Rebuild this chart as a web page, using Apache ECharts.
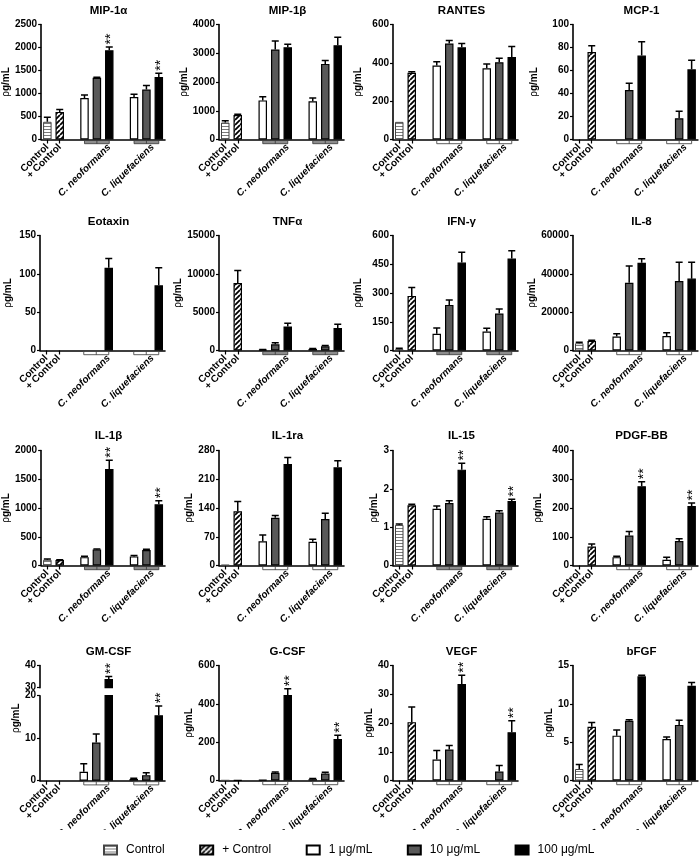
<!DOCTYPE html>
<html><head><meta charset="utf-8">
<script src="https://cdn.jsdelivr.net/npm/echarts@6/dist/echarts.min.js"></script>
<style>html,body{margin:0;padding:0;background:#fff}#c{width:700px;height:858px}</style>
</head><body><div id="c"></div>
<script>
// ---------------- data ----------------
const titles = ['MIP-1α','MIP-1β','RANTES','MCP-1','Eotaxin','TNFα','IFN-γ','IL-8','IL-1β','IL-1ra','IL-15','PDGF-BB','GM-CSF','G-CSF','VEGF','bFGF'];
const groupLabels = ['Control', '+ Control', 'C. neoformans', 'C. liquefaciens'];
const seriesNames = ['Control', '+ Control', '1 μg/mL', '10 μg/mL', '100 μg/mL'];
// order inside every panel array: Control, +Control, C.neoformans 1/10/100, C.liquefaciens 1/10/100
const MIP1a    = [385, 600, 900, 1340, 1940, 925, 1085, 1360];
const MIP1a_sd = [100, 50, 70, 15, 70, 60, 90, 80];
const MIP1b    = [590, 850, 1360, 3130, 3210, 1330, 2630, 3280];
const MIP1b_sd = [60, 30, 130, 300, 100, 110, 120, 280];
const RANTES    = [92, 348, 386, 501, 481, 372, 403, 430];
const RANTES_sd = [0, 5, 20, 16, 20, 22, 21, 55];
const MCP1    = [0, 76, 0, 43, 73, 0, 18.5, 61];
const MCP1_sd = [0, 5.5, 0, 6, 12, 0, 6, 8];
const Eotaxin    = [0, 0, 0, 0, 108, 0, 0, 85];
const Eotaxin_sd = [0, 0, 0, 0, 12, 0, 0, 23];
const TNFa    = [0, 8800, 100, 800, 3140, 200, 550, 2920];
const TNFa_sd = [0, 1650, 30, 200, 430, 60, 100, 500];
const IFNg    = [7, 285, 87, 238, 459, 99, 193, 480];
const IFNg_sd = [5, 44, 30, 26, 54, 17, 24, 40];
const IL8    = [3800, 5000, 7300, 35300, 45800, 7600, 36300, 37500];
const IL8_sd = [500, 350, 1400, 8800, 2100, 1700, 9700, 8500];
const IL1b    = [100, 94, 145, 280, 1680, 158, 270, 1064];
const IL1b_sd = [12, 8, 18, 8, 150, 17, 12, 60];
const IL1ra    = [1.5, 132, 59, 116, 247, 58, 113, 239];
const IL1ra_sd = [0, 24, 15, 6, 16, 6, 14, 16];
const IL15    = [1.06, 1.57, 1.48, 1.63, 2.5, 1.22, 1.38, 1.68];
const IL15_sd = [0.02, 0.03, 0.07, 0.06, 0.17, 0.05, 0.05, 0.05];
const PDGFBB    = [0, 66, 29, 104, 276, 20, 85, 207];
const PDGFBB_sd = [0, 9, 3, 14, 15, 9, 8, 10];
const GMCSF    = [0, 0, 2.1, 9.0, 33.9, 0.4, 1.3, 15.4];
const GMCSF_sd = [0, 0, 1.9, 2.0, 1.1, 0.15, 0.6, 2.2];
const GCSF    = [1, 2, 3, 40, 446, 7, 36, 217];
const GCSF_sd = [0, 0, 0, 5, 33, 3, 7, 19];
const VEGF    = [0, 20.3, 7.3, 10.8, 33.6, 0, 3.1, 16.8];
const VEGF_sd = [0, 5.3, 3.1, 1.4, 3, 0, 2.1, 4];
const bFGF    = [1.5, 7.0, 5.85, 7.78, 13.6, 5.4, 7.25, 12.35];
const bFGF_sd = [0.6, 0.56, 0.73, 0.13, 0.13, 0.26, 0.6, 0.43];
const yMax  = [2500, 4000, 600, 100, 150, 15000, 600, 60000, 2000, 280, 3, 400, 40, 600, 40, 15];
const yStep = [500, 1000, 200, 20, 50, 5000, 150, 20000, 500, 70, 1, 100, 10, 200, 10, 5];
const gmLowRange = [0, 20];     // GM-CSF broken axis: lower segment
const gmHighRange = [30, 40];   // GM-CSF broken axis: upper segment
const starPanels = ['MIP-1α','IL-1β','IL-15','PDGF-BB','GM-CSF','G-CSF','VEGF'];
const starMembers = [4, 7];     // 100 μg/mL of each species

const valueSets = [MIP1a, MIP1b, RANTES, MCP1, Eotaxin, TNFa, IFNg, IL8, IL1b, IL1ra, IL15, PDGFBB, GMCSF, GCSF, VEGF, bFGF];
const sdSets = [MIP1a_sd, MIP1b_sd, RANTES_sd, MCP1_sd, Eotaxin_sd, TNFa_sd, IFNg_sd, IL8_sd, IL1b_sd, IL1ra_sd, IL15_sd, PDGFBB_sd, GMCSF_sd, GCSF_sd, VEGF_sd, bFGF_sd];

// ---------------- layout / style ----------------
const barSlots = [0, 1, 3, 4, 5, 7, 8, 9];
const barSeries = [0, 1, 2, 3, 4, 2, 3, 4];
const groupSpans = [[3, 5], [7, 9]];
const xLabelPos = [0.5, 1.5, 5.5, 9.0];
const colX = [40, 219, 393, 573], rowY = [24.5, 235.5, 450.5, 665.5], GW = 125, GH = 115;
const titleTop = [0, 211, 425, 641];
const nameOff = [32, 30.5, 34.6, 38.5, 32, 31, 35, 35, 32.5, 28, 12.5, 35, 12, 28, 12, 20];
const bracketFill = ['#8c8c8c','#8c8c8c','#fff','#fff','#fff','#8c8c8c','#8c8c8c','#fff','#8c8c8c','#fff','#8c8c8c','#fff','#fff','#fff','#fff','#fff'];
const FONT = 'Liberation Sans, Arial, Helvetica, sans-serif';

function makePattern(kind) {
  const c = document.createElement('canvas');
  const g = c.getContext('2d');
  if (kind === 'h') {
    c.width = 4; c.height = 3;
    g.fillStyle = '#fff'; g.fillRect(0, 0, 4, 3);
    g.fillStyle = '#7a7a7a'; g.fillRect(0, 0, 4, 1);
  } else {
    const n = 5; c.width = n; c.height = n;
    g.fillStyle = '#fff'; g.fillRect(0, 0, n, n);
    g.strokeStyle = '#000'; g.lineWidth = 1.8;
    g.beginPath();
    for (const o of [-n, 0, n]) { g.moveTo(o, n); g.lineTo(o + n, 0); }
    g.stroke();
  }
  return { image: c, repeat: 'repeat' };
}
const seriesStyle = [
  { color: makePattern('h'), borderColor: '#444', borderWidth: 1 },
  { color: makePattern('d'), borderColor: '#000', borderWidth: 1.2 },
  { color: '#fff', borderColor: '#000', borderWidth: 1.2 },
  { color: '#595959', borderColor: '#000', borderWidth: 1.2 },
  { color: '#000', borderColor: '#000', borderWidth: 1.2 }
];

function errRender(params, api) {
  const x = api.value(0), v = api.value(1), e = api.value(2);
  const a = api.coord([x, v]), b = api.coord([x, v + e]);
  const w = 3.5;
  return { type: 'group', children: [
    { type: 'line', shape: { x1: a[0], y1: a[1], x2: b[0], y2: b[1] }, style: { stroke: '#000', lineWidth: 1.5 } },
    { type: 'line', shape: { x1: b[0] - w, y1: b[1], x2: b[0] + w, y2: b[1] }, style: { stroke: '#000', lineWidth: 1.5 } }
  ]};
}
function starRender(params, api) {
  const x = api.value(0), t = api.value(1);
  const c = api.coord([x, t]);
  const cs = params.coordSys;
  if (c[1] < cs.y - 1 || c[1] > cs.y + cs.height + 1) return null;
  return { type: 'text', x: c[0] + 2, y: c[1] - 8, rotation: Math.PI / 2,
    style: { text: '**', fontSize: 14, fontFamily: FONT, align: 'center', verticalAlign: 'middle', fill: '#000' } };
}
function makeBracketRender(fill) {
  return function (params, api) {
    const s = api.value(0), e = api.value(1);
    const a = api.coord([s, 0]), b = api.coord([e, 0]), m = api.coord([s + 1, 0]);
    return { type: 'group', children: [
      { type: 'rect', shape: { x: a[0], y: a[1] + 1, width: b[0] - a[0], height: 3.2 }, style: { fill: fill, stroke: '#333', lineWidth: 0.8 } },
      { type: 'line', shape: { x1: m[0], y1: a[1] + 1, x2: m[0], y2: a[1] + 4.2 }, style: { stroke: '#333', lineWidth: 0.8 } }
    ]};
  };
}
function xLabelText(v) {
  for (let k = 0; k < xLabelPos.length; k++) {
    if (Math.abs(v - xLabelPos[k]) < 1e-6) return k < 2 ? groupLabels[k] : '{i|' + groupLabels[k] + '}';
  }
  return '';
}

const grid = [], xAxis = [], yAxis = [], series = [], title = [];
const slots = ['0','1','2','3','4','5','6','7','8','9'];

titles.forEach((name, i) => {
  const col = i % 4, row = Math.floor(i / 4);
  const left = colX[col], top = rowY[row];
  const vals = valueSets[i], sd = sdSets[i];
  title.push({ text: name, left: left + GW / 2 + 1, top: titleTop[row], textAlign: 'center',
    textStyle: { fontFamily: FONT, fontSize: 11.5, fontWeight: 'bold', color: '#000' } });
  const segs = (name === 'GM-CSF')
    ? [ { min: gmHighRange[0], max: gmHighRange[1], top: top, h: 22.2, main: false },
        { min: gmLowRange[0], max: gmLowRange[1], top: top + 30.2, h: 85, main: true, shiftName: true } ]
    : [ { min: 0, max: yMax[i], top: top, h: GH, main: true } ];
  segs.forEach(seg => {
    const g = grid.length;
    grid.push({ left: left, top: seg.top, width: GW, height: seg.h });
    const xi = xAxis.length;
    xAxis.push({ type: 'category', gridIndex: g, data: slots, position: 'bottom',
      axisLine: { show: seg.main, onZero: false, lineStyle: { color: '#000', width: 1.6 } },
      axisTick: { show: seg.main, alignWithLabel: true, interval: (idx) => idx < 2, length: 4, lineStyle: { color: '#000', width: 1.2 } },
      axisLabel: { show: false }, splitLine: { show: false } });
    if (seg.main) {
      xAxis.push({ type: 'value', gridIndex: g, min: 0, max: 10, interval: 0.5, position: 'bottom',
        axisLine: { show: false }, axisTick: { show: false }, splitLine: { show: false },
        axisLabel: { rotate: 45, margin: 6, formatter: xLabelText, fontFamily: FONT, fontSize: 10, fontWeight: 'bold', color: '#000',
          showMinLabel: true, showMaxLabel: true,
          rich: { i: { fontFamily: FONT, fontSize: 10, fontWeight: 'bold', fontStyle: 'italic', color: '#000' } } } });
    }
    const yi = yAxis.length;
    yAxis.push({ type: 'value', gridIndex: g, min: seg.min, max: seg.max, interval: yStep[i],
      name: seg.main ? '{r|ρ}{b|g/mL}' : '', nameLocation: 'middle', nameRotate: 90, nameGap: nameOff[i] - 5,
      nameTextStyle: { fontFamily: FONT, fontSize: 10, color: '#000', padding: seg.shiftName ? [0, 0, 0, 40] : 0,
        rich: { r: { fontFamily: FONT, fontSize: 10, color: '#000' }, b: { fontFamily: FONT, fontSize: 10, fontWeight: 'bold', color: '#000' } } },
      axisLine: { show: true, lineStyle: { color: '#000', width: 1.6 } },
      axisTick: { show: true, length: 3, lineStyle: { color: '#000', width: 1.2 } },
      axisLabel: { margin: 4, formatter: (v) => String(v), fontFamily: FONT, fontSize: 10, fontWeight: 'bold', color: '#000' },
      splitLine: { show: false } });
    for (let s = 0; s < 5; s++) {
      const data = new Array(10).fill('-');
      vals.forEach((v, k) => { if (barSeries[k] === s && v !== 0) data[barSlots[k]] = v; });
      series.push({ type: 'bar', name: seriesNames[s], xAxisIndex: xi, yAxisIndex: yi, data: data,
        barWidth: 8.5, barGap: '-100%', itemStyle: seriesStyle[s], silent: true, z: 2 });
    }
    series.push({ type: 'custom', xAxisIndex: xi, yAxisIndex: yi, clip: true, silent: true, z: 5,
      data: vals.map((v, k) => [barSlots[k], v, sd[k]]).filter(d => d[2] > 0), renderItem: errRender });
    if (starPanels.includes(name)) {
      series.push({ type: 'custom', xAxisIndex: xi, yAxisIndex: yi, clip: false, silent: true, z: 6,
        data: starMembers.map(k => [barSlots[k], vals[k] + sd[k]]), renderItem: starRender });
    }
    if (seg.main) {
      series.push({ type: 'custom', xAxisIndex: xi, yAxisIndex: yi, clip: false, silent: true, z: 6,
        data: groupSpans, renderItem: makeBracketRender(bracketFill[i]) });
    }
  });
});

const chart = echarts.init(document.getElementById('c'), null, { renderer: 'canvas' });
chart.setOption({
  animation: false,
  backgroundColor: '#fff',
  textStyle: { fontFamily: FONT },
  title: title, grid: grid, xAxis: xAxis, yAxis: yAxis, series: series,
  graphic: [{ type: 'rect', left: 0, top: 830, z: 100, shape: { width: 700, height: 28 }, style: { fill: '#fff' }, silent: true }],
  legend: { data: seriesNames, left: 98, top: 839, z: 120, icon: 'rect', itemWidth: 13, itemHeight: 9, itemGap: 34.5, selectedMode: false,
    textStyle: { fontFamily: FONT, fontSize: 12, color: '#000', padding: [0, 0, 0, 4] } }
});
</script></body></html>
